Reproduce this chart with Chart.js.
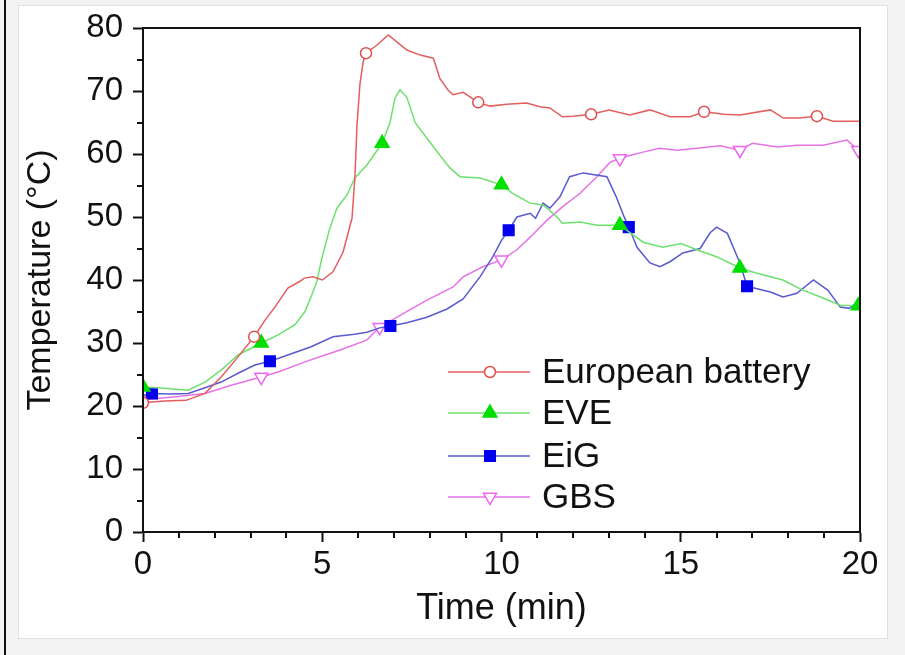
<!DOCTYPE html>
<html>
<head>
<meta charset="utf-8">
<script src="https://cdn.jsdelivr.net/npm/chart.js"></script>
<style>
  body { margin: 0; background: #f3f3f3; width: 905px; height: 655px; overflow: hidden; position: relative; }
  #edge { position: absolute; left: 4px; top: 0; width: 2px; height: 655px; background: #111; }
  #panel { position: absolute; left: 18px; top: 5px; width: 868px; height: 632px; background: #fff; border: 1px solid #e0e0e0; }
  #c { position: absolute; left: 0; top: 0; }
</style>
</head>
<body>
<div id="edge"></div>
<div id="panel"></div>
<canvas id="c" width="905" height="655"></canvas>
<script>
// values (time in min, temperature in °C)
const euroTime = [0, 0.6, 1.2, 1.73, 2.18, 2.65, 3.1, 3.4, 3.68, 4.04, 4.38, 4.5, 4.74, 5.0, 5.3, 5.58, 5.83, 5.91, 5.97, 6.05, 6.14, 6.22, 6.53, 6.84, 7.08, 7.36, 7.73, 8.1, 8.28, 8.5, 8.65, 8.93, 9.35, 9.68, 10.15, 10.7, 11.07, 11.35, 11.7, 12.0, 12.5, 13.0, 13.58, 14.14, 14.7, 15.26, 15.65, 16.2, 16.65, 17.5, 17.86, 18.3, 18.8, 19.25, 20];
const euroTemp = [20.5, 20.8, 20.9, 22, 24.6, 27.8, 31, 33.6, 35.7, 38.7, 39.8, 40.3, 40.5, 40, 41.3, 44.4, 49.8, 56.2, 64.6, 71, 74.6, 76, 77.3, 78.9, 77.8, 76.5, 75.7, 75.2, 72, 70.2, 69.4, 69.8, 68.2, 67.6, 67.9, 68.1, 67.5, 67.3, 65.9, 66, 66.3, 67, 66.2, 67, 65.9, 65.9, 66.7, 66.3, 66.2, 67, 65.7, 65.7, 66, 65.2, 65.2];
const euroMarks = [0, 3.1, 6.22, 9.35, 12.5, 15.65, 18.8];

const eveTime = [0, 0.6, 1.26, 1.73, 2.18, 2.65, 3.3, 3.77, 4.24, 4.52, 4.7, 4.85, 4.97, 5.2, 5.41, 5.69, 5.91, 6.25, 6.67, 6.89, 7.03, 7.17, 7.36, 7.59, 7.92, 8.28, 8.56, 8.84, 9.4, 10.0, 10.3, 10.8, 11.16, 11.55, 11.7, 12.2, 12.66, 13.3, 13.95, 14.5, 15.0, 15.45, 16.0, 16.65, 17.1, 17.85, 18.4, 18.9, 19.45, 19.95];
const eveTemp = [23, 22.8, 22.5, 23.8, 25.7, 28.1, 30, 31.3, 32.9, 35, 37.5, 39.8, 43, 48, 51.4, 53.5, 56.2, 58.3, 61.7, 65, 68.9, 70.2, 69, 65, 62.5, 59.8, 57.8, 56.4, 56.2, 55.1, 53.8, 52.2, 51.9, 50, 49, 49.2, 48.7, 48.7, 46, 45.2, 45.8, 44.8, 43.7, 41.9, 41.1, 40, 38.4, 37.3, 36, 35.9];
const eveMarks = [0, 3.3, 6.67, 10.0, 13.3, 16.65, 19.95];

const eigTime = [0, 0.25, 0.78, 1.26, 1.73, 2.18, 2.65, 3.12, 3.54, 4.04, 4.69, 5.3, 5.9, 6.25, 6.6, 6.9, 7.36, 7.92, 8.48, 8.93, 9.4, 9.76, 10.0, 10.2, 10.43, 10.8, 10.95, 11.16, 11.35, 11.63, 11.9, 12.28, 12.94, 13.2, 13.4, 13.55, 13.78, 14.14, 14.42, 14.7, 15.06, 15.54, 15.82, 16.0, 16.3, 16.65, 16.85, 17.5, 17.85, 18.24, 18.7, 19.1, 19.45, 19.7, 20];
const eigTemp = [21.7, 22, 21.9, 22, 22.9, 23.8, 25.2, 26.5, 27.1, 28.1, 29.4, 31, 31.4, 31.7, 32.4, 32.7, 33.2, 34.1, 35.4, 37, 40.5, 43.7, 46.3, 47.9, 50, 50.6, 49.8, 52.2, 51.4, 53.2, 56.4, 57, 56.4, 53.2, 50.3, 48.4, 45.2, 42.7, 42.1, 42.9, 44.3, 45, 47.5, 48.4, 47.4, 42.7, 39, 38.1, 37.3, 37.9, 40, 38.4, 35.7, 35.5, 36.8];
const eigMarks = [0.25, 3.54, 6.9, 10.2, 13.55, 16.85];

const gbsTime = [0, 0.78, 1.73, 2.46, 3.3, 3.77, 4.52, 5.08, 5.5, 6.25, 6.6, 7.17, 7.92, 8.65, 8.93, 9.48, 10.0, 10.43, 10.8, 11.27, 11.7, 12.2, 12.66, 13.03, 13.3, 13.6, 13.95, 14.4, 14.9, 15.45, 16.1, 16.65, 17.0, 17.7, 18.24, 18.97, 19.64, 19.95, 20];
const gbsTemp = [21, 21.4, 22, 23.3, 24.6, 25.4, 27, 28.1, 28.9, 30.5, 32.5, 34.4, 36.8, 38.9, 40.5, 42.1, 43.2, 44.8, 46.8, 49.5, 51.6, 53.8, 56.4, 58.7, 59.3, 59.8, 60.3, 60.9, 60.6, 60.9, 61.3, 60.6, 61.7, 61.1, 61.4, 61.4, 62.2, 60.6, 59.8];
const gbsMarks = [0, 3.3, 6.6, 10.0, 13.3, 16.65, 19.95];

const seriesNames = ['European battery', 'EVE', 'EiG', 'GBS'];
const xTicks = [0, 5, 10, 15, 20];
const yTicks = [0, 10, 20, 30, 40, 50, 60, 70, 80];

const FONT = "'Liberation Sans', Arial, sans-serif";

function points(times, temps) {
    return times.map((t, i) => ({ x: t, y: temps[i] }));
}

function makeSet(name, times, temps, marks, style) {
    return {
        label: name,
        data: points(times, temps),
        borderColor: style.line,
        borderWidth: 1.5,
        tension: 0,
        pointStyle: style.shape,
        rotation: style.rotation || 0,
        backgroundColor: style.fill,
        pointBackgroundColor: style.fill,
        pointBorderColor: style.mark,
        pointBorderWidth: 1.5,
        pointRadius: ctx => marks.includes(ctx.raw.x) ? style.size : 0,
        pointHoverRadius: 0
    };
}

const styles = [
    { line: '#e45e5e', mark: '#e04f4f', fill: '#ffffff', shape: 'circle', size: 5.5 },
    { line: '#6ee06e', mark: '#00dd00', fill: '#00e000', shape: 'triangle', size: 8 },
    { line: '#5a5ad0', mark: '#0000ee', fill: '#0000ee', shape: 'rect', size: 7.5 },
    { line: '#e673e6', mark: '#ee66ee', fill: '#ffffff', shape: 'triangle', size: 7.5, rotation: 180 }
];

const datasets = [
    makeSet(seriesNames[0], euroTime, euroTemp, euroMarks, styles[0]),
    makeSet(seriesNames[1], eveTime, eveTemp, eveMarks, styles[1]),
    makeSet(seriesNames[2], eigTime, eigTemp, eigMarks, styles[2]),
    makeSet(seriesNames[3], gbsTime, gbsTemp, gbsMarks, styles[3])
];

function drawMarker(ctx, st, x, y) {
    ctx.save();
    ctx.fillStyle = st.fill;
    ctx.strokeStyle = st.mark;
    ctx.lineWidth = 1.5;
    if (Chart.helpers && Chart.helpers.drawPoint) {
        Chart.helpers.drawPoint(ctx, { pointStyle: st.shape, radius: st.size, rotation: st.rotation || 0, borderWidth: 1.5 }, x, y);
    } else {
        ctx.beginPath();
        ctx.arc(x, y, st.size, 0, Math.PI * 2);
        ctx.fill();
        ctx.stroke();
    }
    ctx.restore();
}

// frame, minor ticks and the inside legend
const extras = {
    id: 'extras',
    afterDraw(chart) {
        const ctx = chart.ctx;
        const a = chart.chartArea;
        const xs = chart.scales.x, ys = chart.scales.y;
        ctx.save();
        ctx.strokeStyle = '#111';
        ctx.lineWidth = 2;
        ctx.strokeRect(a.left, a.top, a.right - a.left, a.bottom - a.top);

        // minor ticks
        ctx.beginPath();
        for (let v = 1; v < 20; v++) {
            if (v % 5 === 0) continue;
            const px = Math.round(xs.getPixelForValue(v));
            ctx.moveTo(px, a.bottom);
            ctx.lineTo(px, a.bottom + 6);
        }
        for (let v = 5; v < 80; v += 10) {
            const py = Math.round(ys.getPixelForValue(v));
            ctx.moveTo(a.left, py);
            ctx.lineTo(a.left - 6, py);
        }
        ctx.stroke();

        // legend
        const rowY = [372, 413, 456, 497];
        ctx.font = '35px ' + FONT;
        ctx.textBaseline = 'middle';
        ctx.textAlign = 'left';
        seriesNames.forEach((name, i) => {
            const st = styles[i];
            ctx.strokeStyle = st.line;
            ctx.lineWidth = 1.5;
            ctx.beginPath();
            ctx.moveTo(448, rowY[i]);
            ctx.lineTo(530, rowY[i]);
            ctx.stroke();
            drawMarker(ctx, st, 490, rowY[i]);
            ctx.fillStyle = '#111';
            ctx.fillText(name, 542, rowY[i] + 1);
        });
        ctx.restore();
    }
};

new Chart(document.getElementById('c').getContext('2d'), {
    type: 'line',
    data: { datasets: datasets },
    options: {
        responsive: false,
        animation: false,
        events: [],
        layout: { padding: { left: 0, right: 45, top: 28, bottom: 0 } },
        plugins: {
            legend: { display: false },
            tooltip: { enabled: false }
        },
        scales: {
            x: {
                type: 'linear',
                min: 0,
                max: 20,
                afterBuildTicks: s => { s.ticks = xTicks.map(v => ({ value: v })); },
                ticks: { color: '#111', font: { family: FONT, size: 33, lineHeight: 1.2 }, padding: 3, maxRotation: 0 },
                grid: { drawOnChartArea: false, tickLength: 10, tickColor: '#111', tickWidth: 2 },
                border: { color: '#111', width: 2 },
                title: { display: true, text: 'Time (min)', color: '#111', font: { family: FONT, size: 36, lineHeight: 1.2 }, padding: { top: 0, bottom: 24 } },
                afterFit: s => { s.height = 123; s.paddingLeft = 0; s.paddingRight = 0; }
            },
            y: {
                type: 'linear',
                min: 0,
                max: 80,
                afterBuildTicks: s => { s.ticks = yTicks.map(v => ({ value: v })); },
                ticks: { color: '#111', font: { family: FONT, size: 33, lineHeight: 1.2 }, padding: 10 },
                grid: { drawOnChartArea: false, tickLength: 10, tickColor: '#111', tickWidth: 2 },
                border: { color: '#111', width: 2 },
                title: { display: true, text: 'Temperature (°C)', color: '#111', font: { family: FONT, size: 34, lineHeight: 1.2 }, padding: { top: 20, bottom: 0 } },
                afterFit: s => { s.width = 143; s.paddingTop = 0; s.paddingBottom = 0; }
            }
        }
    },
    plugins: [extras]
});
</script>
</body>
</html>
